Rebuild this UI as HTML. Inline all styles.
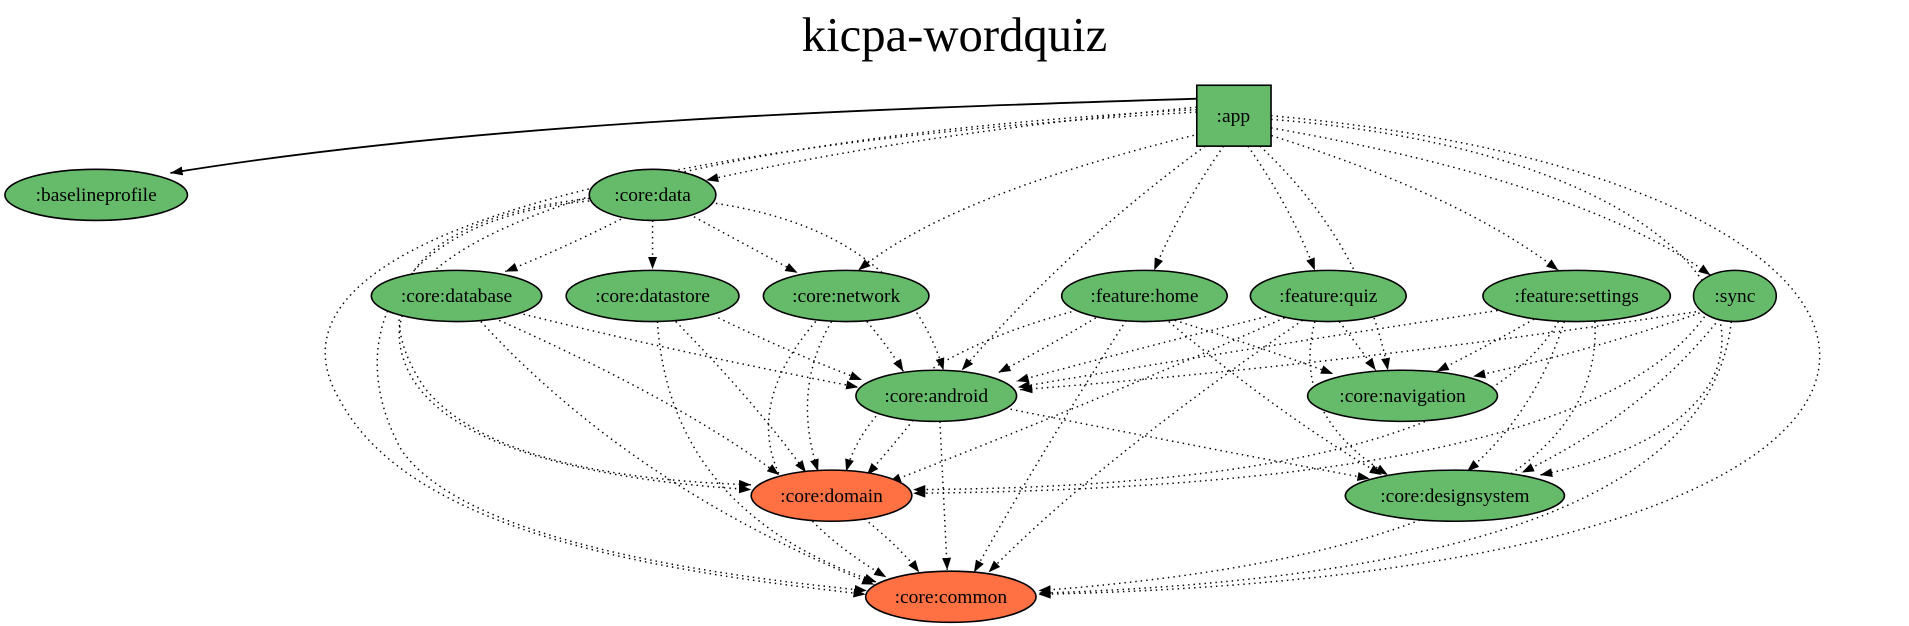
<!DOCTYPE html>
<html><head><meta charset="utf-8"><style>
html,body{margin:0;padding:0;background:#fff;}
svg{display:block;}
text{font-family:"Liberation Serif",serif;}
</style></head><body>
<svg width="1909" height="626" viewBox="0 0 1568 514" preserveAspectRatio="none" xmlns="http://www.w3.org/2000/svg">
<defs>
<marker id="a" markerWidth="11" markerHeight="8" refX="10" refY="3.7" orient="auto" markerUnits="userSpaceOnUse">
<path d="M0,0 L10,3.7 L0,7.4 z" fill="#000"/></marker>
</defs>
<rect width="1568" height="514" fill="#fff"/>
<text x="784" y="42" font-size="40" text-anchor="middle">kicpa-wordquiz</text>
<g fill="none" stroke="#000" stroke-width="1.2" stroke-dasharray="1.2,3.3" marker-end="url(#a)">
<path d="M983,88 Q750,110 580,148"/>
<path d="M985,110 Q780,160 705,222"/>
<path d="M1005,120 Q970,170 948,222"/>
<path d="M1025,120 Q1060,170 1080,222"/>
<path d="M1040,110 Q1200,160 1280,222"/>
<path d="M1044,105 Q1300,150 1405,226"/>
<path d="M990,120 Q880,200 790,304"/>
<path d="M1035,120 Q1120,200 1140,304"/>
<path d="M1044,98 C1450,130 1520,340 1265,390"/>
<path d="M1044,95 C1650,150 1700,470 853,488"/>
<path d="M983,90 C600,110 300,180 330,290 C350,370 500,395 617,402"/>
<path d="M983,92 C500,120 200,200 280,330 C340,440 550,470 711,488"/>
<path d="M510,180 Q460,205 415,223"/>
<path d="M536,181 L536,221"/>
<path d="M570,178 Q620,205 655,224"/>
<path d="M588,167 Q740,190 775,304"/>
<path d="M484,163 C330,180 300,250 350,320 C400,380 520,395 617,398"/>
<path d="M484,165 C320,180 280,280 330,370 C380,440 560,470 712,485"/>
<path d="M430,258 Q560,290 705,318"/>
<path d="M410,263 Q560,330 640,390"/>
<path d="M395,264 Q520,400 718,480"/>
<path d="M590,261 Q650,290 708,312"/>
<path d="M555,264 Q620,330 662,388"/>
<path d="M540,264 Q550,420 720,478"/>
<path d="M712,264 Q730,285 742,305"/>
<path d="M683,264 Q650,320 672,387"/>
<path d="M670,264 Q570,380 728,474"/>
<path d="M900,261 Q860,285 820,306"/>
<path d="M965,263 Q1050,290 1095,307"/>
<path d="M960,264 Q1050,340 1135,390"/>
<path d="M880,256 Q720,300 695,387"/>
<path d="M925,263 Q850,380 800,470"/>
<path d="M1040,260 Q920,290 835,313"/>
<path d="M1100,264 Q1120,290 1130,304"/>
<path d="M1080,264 Q1060,340 1140,390"/>
<path d="M1055,261 Q900,330 730,396"/>
<path d="M1070,263 Q900,380 812,470"/>
<path d="M1230,255 Q1000,290 836,318"/>
<path d="M1260,262 Q1220,285 1180,305"/>
<path d="M1285,264 Q1260,340 1205,387"/>
<path d="M1280,264 Q1200,400 750,402"/>
<path d="M1310,264 Q1320,450 853,485"/>
<path d="M1393,256 Q1100,300 838,320"/>
<path d="M1396,257 Q1300,290 1210,309"/>
<path d="M1412,262 Q1350,340 1250,388"/>
<path d="M1400,260 Q1300,400 750,405"/>
<path d="M1422,264 Q1400,470 853,487"/>
<path d="M750,345 Q730,370 712,390"/>
<path d="M772,346 L778,468"/>
<path d="M830,336 Q1000,370 1125,393"/>
<path d="M710,426 Q740,450 755,470"/>
</g>
<path d="M983,81 C700,90 400,100 140,142" fill="none" stroke="#000" stroke-width="1.5" marker-end="url(#a)"/>
<g stroke="#000" stroke-width="1.3">
<rect x="983" y="70" width="61" height="50" fill="#66bb6a"/>
<g fill="#66bb6a">
<ellipse cx="79" cy="160" rx="75" ry="21"/>
<ellipse cx="536" cy="160" rx="52" ry="21"/>
<ellipse cx="375" cy="243" rx="70" ry="21"/>
<ellipse cx="536" cy="243" rx="71" ry="21"/>
<ellipse cx="695" cy="243" rx="68" ry="21"/>
<ellipse cx="940" cy="243" rx="68" ry="21"/>
<ellipse cx="1091" cy="243" rx="64" ry="21"/>
<ellipse cx="1295" cy="243" rx="77" ry="21"/>
<ellipse cx="1425" cy="243" rx="34" ry="21"/>
<ellipse cx="769" cy="325" rx="66" ry="21"/>
<ellipse cx="1152" cy="325" rx="78" ry="21"/>
<ellipse cx="1195" cy="407" rx="90" ry="21"/>
</g>
<g fill="#ff7043">
<ellipse cx="683" cy="407" rx="66" ry="21"/>
<ellipse cx="781" cy="490" rx="70" ry="21"/>
</g>
</g>
<g font-size="16" text-anchor="middle" fill="#000">
<text x="1013" y="100">:app</text>
<text x="79" y="165">:baselineprofile</text>
<text x="536" y="165">:core:data</text>
<text x="375" y="248">:core:database</text>
<text x="536" y="248">:core:datastore</text>
<text x="695" y="248">:core:network</text>
<text x="940" y="248">:feature:home</text>
<text x="1091" y="248">:feature:quiz</text>
<text x="1295" y="248">:feature:settings</text>
<text x="1425" y="248">:sync</text>
<text x="769" y="330">:core:android</text>
<text x="1152" y="330">:core:navigation</text>
<text x="683" y="412">:core:domain</text>
<text x="1195" y="412">:core:designsystem</text>
<text x="781" y="495">:core:common</text>
</g>
</svg>
</body></html>
